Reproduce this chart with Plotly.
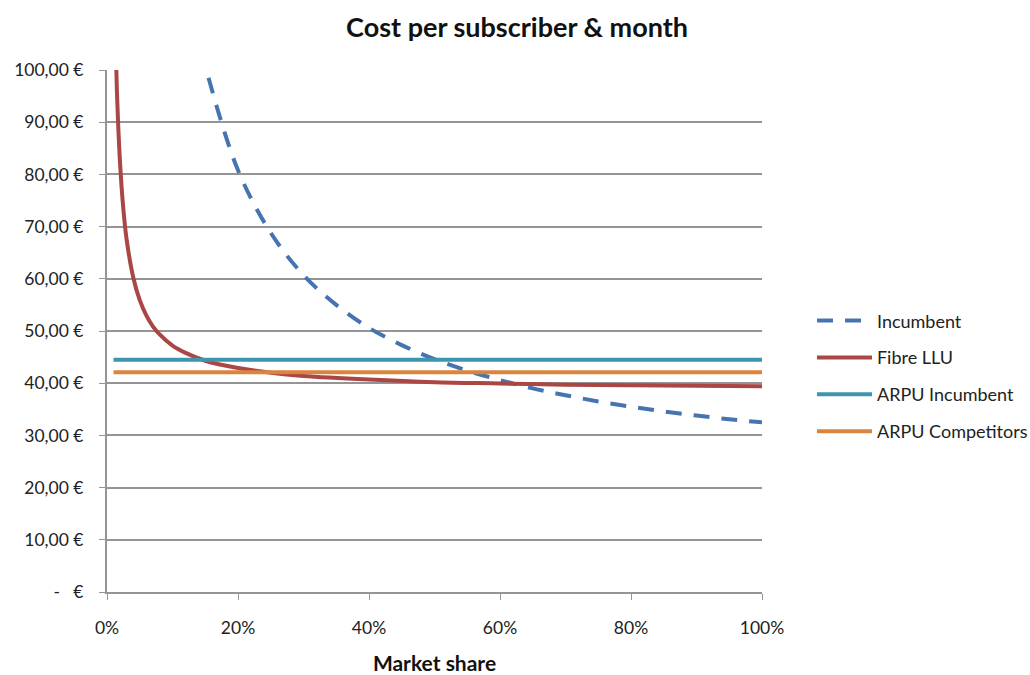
import plotly.graph_objects as go

# Market share (fraction) and costs per subscriber & month (EUR)
incumbent_share = [0.155, 0.20, 0.25, 0.30, 0.35, 0.40, 0.45, 0.50, 0.55, 0.60,
                   0.65, 0.70, 0.75, 0.80, 0.85, 0.90, 0.95, 1.00]
incumbent_cost = [98.5, 80.8, 68.8, 60.7, 55.0, 50.6, 47.3, 44.6, 42.4, 40.6,
                  39.0, 37.7, 36.5, 35.5, 34.6, 33.8, 33.1, 32.5]

fibre_share = [0.01, 0.012, 0.015, 0.02, 0.025, 0.03, 0.04, 0.05, 0.06, 0.07,
               0.08, 0.10, 0.12, 0.15, 0.20, 0.25, 0.30, 0.40, 0.50, 0.60,
               0.70, 0.80, 0.90, 1.00]
fibre_cost = [125.5, 111.0, 96.5, 82.0, 73.3, 67.5, 60.3, 55.9, 53.0, 50.9,
              49.4, 47.2, 45.8, 44.3, 42.9, 42.0, 41.4, 40.7, 40.2, 39.95,
              39.7, 39.6, 39.5, 39.4]

arpu_share = [0.01, 1.00]
arpu_incumbent = [44.5, 44.5]
arpu_competitors = [42.1, 42.1]

y_ticks = [0, 10, 20, 30, 40, 50, 60, 70, 80, 90, 100]
y_labels = ["-   €", "10,00 €", "20,00 €", "30,00 €", "40,00 €", "50,00 €",
            "60,00 €", "70,00 €", "80,00 €", "90,00 €", "100,00 €"]
x_ticks = [0, 0.2, 0.4, 0.6, 0.8, 1.0]
x_labels = ["0%", "20%", "40%", "60%", "80%", "100%"]

FONT = "Lato, 'Open Sans', sans-serif"

fig = go.Figure()
fig.add_trace(go.Scatter(x=incumbent_share, y=incumbent_cost, name="Incumbent",
                         mode="lines", line=dict(color="#4674B0", width=4, dash="16px,12px", shape="spline"),
                         legendgroup="a"))
fig.add_trace(go.Scatter(x=fibre_share, y=fibre_cost, name="Fibre LLU",
                         mode="lines", line=dict(color="#AA4643", width=4, shape="spline"),
                         legendgroup="b"))
fig.add_trace(go.Scatter(x=arpu_share, y=arpu_incumbent, name="ARPU Incumbent",
                         mode="lines", line=dict(color="#3D96AE", width=4),
                         legendgroup="c"))
fig.add_trace(go.Scatter(x=arpu_share, y=arpu_competitors, name="ARPU Competitors",
                         mode="lines", line=dict(color="#DB843D", width=4),
                         legendgroup="d"))

fig.update_layout(
    width=1030, height=675,
    paper_bgcolor="white", plot_bgcolor="white",
    margin=dict(l=107, r=268, t=70, b=83, autoexpand=False),
    font=dict(family=FONT, size=16, color="#222"),
    title=dict(text="<b>Cost per subscriber & month</b>", x=0.502, xanchor="center",
               xref="container",
               y=0.9585, yanchor="middle", yref="container",
               font=dict(size=27, color="#111")),
    showlegend=True,
    legend=dict(x=1.0763, y=0.555, xanchor="left", yanchor="top",
                traceorder="grouped", tracegroupgap=10.5, itemwidth=55,
                font=dict(size=18, color="#222"), bgcolor="rgba(0,0,0,0)"),
)
fig.update_xaxes(range=[0, 1], tickvals=x_ticks, ticktext=x_labels,
                 showgrid=False, zeroline=False,
                 showline=True, linecolor="#959595", linewidth=2,
                 ticks="outside", ticklen=6, tickcolor="#959595", tickwidth=1,
                 ticklabelstandoff=13,
                 tickfont=dict(size=17.5),
                 title=dict(text="<b>Market share</b>", font=dict(size=21, color="#111"), standoff=23))
fig.update_yaxes(range=[0, 100], tickvals=y_ticks, ticktext=y_labels,
                 showgrid=True, gridcolor="#959595", gridwidth=1.5, zeroline=False,
                 showline=True, linecolor="#959595", linewidth=2,
                 ticks="outside", ticklen=6, tickcolor="#959595", tickwidth=1,
                 ticklabelstandoff=12,
                 tickfont=dict(size=17.5))

fig.write_html("out.html", config={"displayModeBar": False},
               post_script="document.body.style.margin='0';")
